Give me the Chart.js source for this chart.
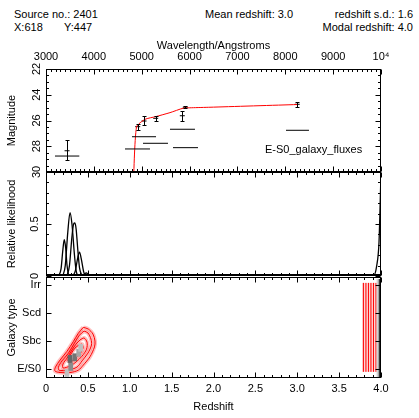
<!DOCTYPE html>
<html>
<head>
<meta charset="utf-8">
<script src="https://cdn.jsdelivr.net/npm/chart.js@4.4.0/dist/chart.umd.min.js"></script>
<style>
body { margin: 0; background: #fff; }
#wrap { position: relative; width: 419px; height: 418px; overflow: hidden; background: #fff;
        font-family: "Liberation Sans", Arial, sans-serif; font-size: 11px; color: #000; }
canvas { position: absolute; left: 0; }
.lbl { position: absolute; line-height: 13px; white-space: nowrap; }
</style>
</head>
<body>
<div id="wrap">
  <div class="lbl" style="left:14px;top:8px">Source no.: 2401</div>
  <div class="lbl" style="left:14px;top:21px">X:618</div>
  <div class="lbl" style="left:64px;top:21px">Y:447</div>
  <div class="lbl" style="left:205px;top:8px">Mean redshift: 3.0</div>
  <div class="lbl" style="right:6px;top:8px">redshift s.d.: 1.6</div>
  <div class="lbl" style="right:6px;top:21px">Modal redshift: 4.0</div>
  <canvas id="sed" width="419" height="186" style="top:0px"></canvas>
  <canvas id="like" width="419" height="130" style="top:160px"></canvas>
  <canvas id="type" width="419" height="153" style="top:265px"></canvas>
  <div class="lbl" style="left:265px;top:143px">E-S0_galaxy_fluxes</div>
</div>
<script>
// ---- top panel: fluxes vs wavelength ----
const wavelengthTicks = [3000, 4000, 5000, 6000, 7000, 8000, 9000, 10000];
const wavelengthLabels = ['3000', '4000', '5000', '6000', '7000', '8000', '9000', '10\u2074'];
const magTicks = [22, 24, 26, 28, 30];

const fluxWave  = [3440, 4916, 5048, 5292, 5848, 5911, 8250];
const fluxMag   = [28.35, 26.48, 26.04, 25.83, 25.63, 24.97, 24.74];
const fluxMagLo = [27.51, 26.30, 25.63, 25.63, 25.26, 24.89, 24.56];
const fluxMagHi = [29.07, 26.74, 26.35, 26.04, 26.04, 25.05, 24.92];

const filterLo  = [3188, 4797, 4651, 5027, 5591, 5654, 8015];
const filterHi  = [3696, 5299, 5173, 5549, 6113, 6176, 8495];
const filterMag = [28.76, 27.26, 28.21, 27.77, 26.68, 28.11, 26.76];

const modelWave = [4820, 4891, 5069, 5292, 5591, 5863, 6045, 6427, 8245];
const modelMag  = [31.5, 26.50, 25.91, 25.70, 25.39, 25.05, 25.01, 24.97, 24.76];

// ---- middle panel: likelihood vs redshift ----
const likeTicks = [0, 0.5];
const curveA = [[0.15, 0], [0.18, 0.07], [0.20, 0.24], [0.218, 0.35], [0.235, 0.27], [0.25, 0.11], [0.27, 0]];
const curveB = [[0.20, 0], [0.23, 0.10], [0.26, 0.42], [0.287, 0.61], [0.31, 0.50], [0.34, 0.20], [0.36, 0.05], [0.38, 0]];
const curveC = [[0.25, 0], [0.28, 0.10], [0.31, 0.38], [0.33, 0.50], [0.345, 0.51], [0.36, 0.45], [0.38, 0.25], [0.40, 0.08], [0.43, 0]];
const curveD = [[0.32, 0], [0.35, 0.05], [0.38, 0.18], [0.40, 0.23], [0.42, 0.17], [0.45, 0.04], [0.47, 0]];
const curveE = [[0.44, 0], [0.48, 0.03], [0.51, 0.01], [0.54, 0]];
const curveF = [[3.85, 0], [3.908, 0], [3.949, 0.10], [3.976, 0.32], [3.988, 0.63], [4.0, 1.0]];

// ---- bottom panel: galaxy type vs redshift ----
const redshiftTicks = [0, 0.5, 1, 1.5, 2, 2.5, 3, 3.5, 4];
const typeTicks = [1, 2, 3, 4];
const typeLabels = ['E/S0', 'Sbc', 'Scd', 'Irr'];

const loop1 = [[0.445, 2.49], [0.505, 2.43], [0.561, 2.25], [0.585, 2.00], [0.579, 1.79], [0.525, 1.44], [0.445, 1.14], [0.386, 0.96],
               [0.287, 0.875], [0.167, 0.875], [0.107, 0.93], [0.113, 1.07], [0.167, 1.32], [0.247, 1.62], [0.326, 1.98], [0.386, 2.28], [0.445, 2.49]];
const loop2 = [[0.454, 2.36], [0.501, 2.29], [0.537, 2.07], [0.543, 1.86], [0.501, 1.57], [0.430, 1.29], [0.370, 1.07], [0.263, 0.96],
               [0.155, 0.96], [0.149, 1.07], [0.191, 1.29], [0.269, 1.57], [0.340, 1.93], [0.400, 2.21], [0.454, 2.36]];
const loop3 = [[0.406, 2.04], [0.454, 2.11], [0.490, 1.96], [0.484, 1.71], [0.430, 1.46], [0.358, 1.25], [0.287, 1.11], [0.203, 1.04],
               [0.203, 1.18], [0.251, 1.39], [0.310, 1.68], [0.358, 1.89], [0.406, 2.04]];
const loop4 = [[0.394, 1.86], [0.430, 1.89], [0.442, 1.75], [0.406, 1.54], [0.346, 1.36], [0.287, 1.25], [0.263, 1.32], [0.299, 1.54],
               [0.346, 1.75], [0.394, 1.86]];

// z, type, grey level (0 white .. 1 black)
const greyCells = [[0.25, 0.86, 0.25], [0.295, 1.08, 0.45], [0.287, 1.36, 0.6], [0.343, 1.42, 0.55], [0.39, 1.58, 0.35], [0.414, 1.76, 0.25]];
const stripZ = [3.955, 3.97, 3.985];
const stripGrey = [0.15, 0.35, 0.85];

const redLineZ = [3.79, 3.82, 3.85, 3.88, 3.91, 3.94];
const redLineType = [0.90, 4.08];

Chart.defaults.font.family = '"Liberation Sans", Arial, sans-serif';
Chart.defaults.font.size = 11;
Chart.defaults.color = '#000';

const font = { family: '"Liberation Sans", Arial, sans-serif', size: 11 };

function eachTick(scale, minor, major, fn) {
  const lo = Math.min(scale.min, scale.max), hi = Math.max(scale.min, scale.max);
  const start = Math.ceil(lo / minor - 1e-6), end = Math.floor(hi / minor + 1e-6);
  for (let i = start; i <= end; i++) {
    const v = i * minor, r = v / major;
    fn(scale.getPixelForValue(v), Math.abs(r - Math.round(r)) < 1e-6);
  }
}

// PGPLOT style box with inward ticks on all four sides
const frame = {
  id: 'frame',
  afterDraw(chart, args, o) {
    const { ctx, chartArea: a } = chart;
    const L = Math.round(a.left) + 0.5, R = Math.round(a.right) - 0.5;
    const T = Math.round(a.top) + 0.5, B = Math.round(a.bottom) - 0.5;
    ctx.save();
    ctx.strokeStyle = '#000';
    ctx.lineWidth = 1;
    ctx.strokeRect(L, T, R - L, B - T);
    ctx.beginPath();
    eachTick(chart.scales.x, o.xMinor, o.xMajor, (px, major) => {
      const len = major ? 5 : 2.5, p = Math.round(px) + 0.5;
      ctx.moveTo(p, T); ctx.lineTo(p, T + len);
      ctx.moveTo(p, B); ctx.lineTo(p, B - len);
    });
    eachTick(chart.scales.y, o.yMinor, o.yMajor, (py, major) => {
      const len = major ? 5 : 2.5, p = Math.round(py) + 0.5;
      ctx.moveTo(L, p); ctx.lineTo(L + len, p);
      ctx.moveTo(R, p); ctx.lineTo(R - len, p);
    });
    ctx.stroke();
    if (o.thickBottom) {
      ctx.lineWidth = 2;
      ctx.beginPath();
      ctx.moveTo(L, Math.round(a.bottom) - 1); ctx.lineTo(R, Math.round(a.bottom) - 1);
      ctx.stroke();
    }
    ctx.restore();
  }
};

const errorBars = {
  id: 'errorBars',
  afterDatasetsDraw(chart) {
    const { ctx } = chart, xs = chart.scales.x, ys = chart.scales.y;
    ctx.save();
    ctx.strokeStyle = '#000';
    ctx.lineWidth = 1;
    ctx.beginPath();
    fluxWave.forEach((w, i) => {
      const x = Math.round(xs.getPixelForValue(w)) + 0.5;
      const y1 = Math.round(ys.getPixelForValue(fluxMagLo[i])) + 0.5;
      const y2 = Math.round(ys.getPixelForValue(fluxMagHi[i])) + 0.5;
      ctx.moveTo(x, y1); ctx.lineTo(x, y2);
      ctx.moveTo(x - 2, y1); ctx.lineTo(x + 2, y1);
      ctx.moveTo(x - 2, y2); ctx.lineTo(x + 2, y2);
    });
    ctx.stroke();
    ctx.restore();
  }
};

const greyMap = {
  id: 'greyMap',
  afterDatasetsDraw(chart) {
    const { ctx, chartArea: a } = chart, xs = chart.scales.x, ys = chart.scales.y;
    const grey = g => { const c = Math.round(255 * (1 - g)); return `rgb(${c},${c},${c})`; };
    ctx.save();
    greyCells.forEach(([z, t, g]) => {
      const x1 = xs.getPixelForValue(z - 0.028), x2 = xs.getPixelForValue(z + 0.028);
      const y1 = ys.getPixelForValue(t + 0.14), y2 = ys.getPixelForValue(t - 0.14);
      ctx.fillStyle = grey(g);
      ctx.fillRect(x1, y1, x2 - x1, y2 - y1);
    });
    stripZ.forEach((z, i) => {
      const x1 = xs.getPixelForValue(z - 0.008), x2 = xs.getPixelForValue(z + 0.008);
      ctx.fillStyle = grey(stripGrey[i]);
      ctx.fillRect(x1, a.top + 2, x2 - x1, a.bottom - a.top - 3);
    });
    ctx.restore();
  }
};

const pts = arr => arr.map(([x, y]) => ({ x, y }));
const lineSet = (data, color, width, extra) => Object.assign({
  data, showLine: true, borderColor: color, borderWidth: width, pointRadius: 0, fill: false
}, extra || {});

const hideGrid = { display: false, drawTicks: false };

// ---------- top chart ----------
new Chart(document.getElementById('sed'), {
  type: 'scatter',
  data: {
    datasets: [
      ...filterLo.map((lo, i) => lineSet([{ x: lo, y: filterMag[i] }, { x: filterHi[i], y: filterMag[i] }], '#000', 1)),
      lineSet(modelWave.map((w, i) => ({ x: w, y: modelMag[i] })), '#ff0000', 1, { tension: 0.2 }),
      {
        data: fluxWave.map((w, i) => ({ x: w, y: fluxMag[i] })),
        pointStyle: 'line', pointRadius: 2.5, borderColor: '#000', borderWidth: 1, backgroundColor: '#000'
      }
    ]
  },
  options: {
    responsive: false, animation: false, events: [],
    layout: { padding: { left: 0, right: 38, top: 0, bottom: 14 } },
    plugins: { legend: { display: false }, tooltip: { enabled: false },
               frame: { xMinor: 100, xMajor: 1000, yMinor: 0.5, yMajor: 2 } },
    scales: {
      x: {
        type: 'linear', position: 'top', min: 3000, max: 10000,
        afterBuildTicks: s => { s.ticks = wavelengthTicks.map(v => ({ value: v })); },
        ticks: { callback: (v, i) => wavelengthLabels[i], padding: 5, maxRotation: 0, autoSkip: false, font },
        grid: hideGrid, border: { display: false },
        title: { display: true, text: 'Wavelength/Angstroms', font, padding: { top: 39, bottom: 0 } },
        afterFit: s => { s.height = 69; }
      },
      y: {
        type: 'linear', reverse: true, min: 22, max: 30,
        afterBuildTicks: s => { s.ticks = magTicks.map(v => ({ value: v })); },
        ticks: { minRotation: 90, maxRotation: 90, crossAlign: 'center', padding: 3, font },
        grid: hideGrid, border: { display: false },
        title: { display: true, text: 'Magnitude', font, padding: { top: 5, bottom: 0 } },
        afterFit: s => { s.width = 46; }
      }
    }
  },
  plugins: [frame, errorBars]
});

// ---------- middle chart ----------
new Chart(document.getElementById('like'), {
  type: 'scatter',
  data: {
    datasets: [curveA, curveB, curveC, curveD, curveE, curveF].map(c =>
      lineSet(pts(c), '#000', 1.3, { cubicInterpolationMode: 'monotone' }))
  },
  options: {
    responsive: false, animation: false, events: [],
    layout: { padding: { left: 0, right: 38, top: 12, bottom: 14 } },
    plugins: { legend: { display: false }, tooltip: { enabled: false },
               frame: { xMinor: 0.1, xMajor: 0.5, yMinor: 0.1, yMajor: 0.5, thickBottom: true } },
    scales: {
      x: { type: 'linear', min: 0, max: 4, display: false },
      y: {
        type: 'linear', min: 0, max: 1,
        afterBuildTicks: s => { s.ticks = likeTicks.map(v => ({ value: v })); },
        ticks: { minRotation: 90, maxRotation: 90, crossAlign: 'center', padding: 3, font },
        grid: hideGrid, border: { display: false },
        title: { display: true, text: 'Relative likelihood', font, padding: { top: 5, bottom: 0 } },
        afterFit: s => { s.width = 46; }
      }
    }
  },
  plugins: [frame]
});

// ---------- bottom chart ----------
const contourSets = [];
[loop1, loop2, loop3, loop4].forEach(l => {
  contourSets.push(lineSet(pts(l), 'rgba(255,0,0,0.25)', 4, { tension: 0.3 }));
  contourSets.push(lineSet(pts(l), '#ff0000', 1, { tension: 0.3 }));
});
redLineZ.forEach(z => {
  const seg = redLineType.map(t => ({ x: z, y: t }));
  contourSets.push(lineSet(seg, 'rgba(255,0,0,0.18)', 2.5));
  contourSets.push(lineSet(seg, '#ff0000', 1));
});

new Chart(document.getElementById('type'), {
  type: 'scatter',
  data: { datasets: contourSets },
  options: {
    responsive: false, animation: false, events: [],
    layout: { padding: { left: 0, right: 38, top: 12, bottom: 0 } },
    plugins: { legend: { display: false }, tooltip: { enabled: false },
               frame: { xMinor: 0.1, xMajor: 0.5, yMinor: 1, yMajor: 1 } },
    scales: {
      x: {
        type: 'linear', min: 0, max: 4,
        afterBuildTicks: s => { s.ticks = redshiftTicks.map(v => ({ value: v })); },
        ticks: { padding: 4, maxRotation: 0, autoSkip: false, font },
        grid: hideGrid, border: { display: false },
        title: { display: true, text: 'Redshift', font, padding: { top: 0, bottom: 4 } },
        afterFit: s => { s.height = 40; }
      },
      y: {
        type: 'linear', min: 0.68, max: 4.29,
        afterBuildTicks: s => { s.ticks = typeTicks.map(v => ({ value: v })); },
        ticks: { callback: (v, i) => typeLabels[i], padding: 5, font },
        grid: hideGrid, border: { display: false },
        title: { display: true, text: 'Galaxy type', font, padding: { top: 5, bottom: 0 } },
        afterFit: s => { s.width = 46; }
      }
    }
  },
  plugins: [frame, greyMap]
});
</script>
</body>
</html>
